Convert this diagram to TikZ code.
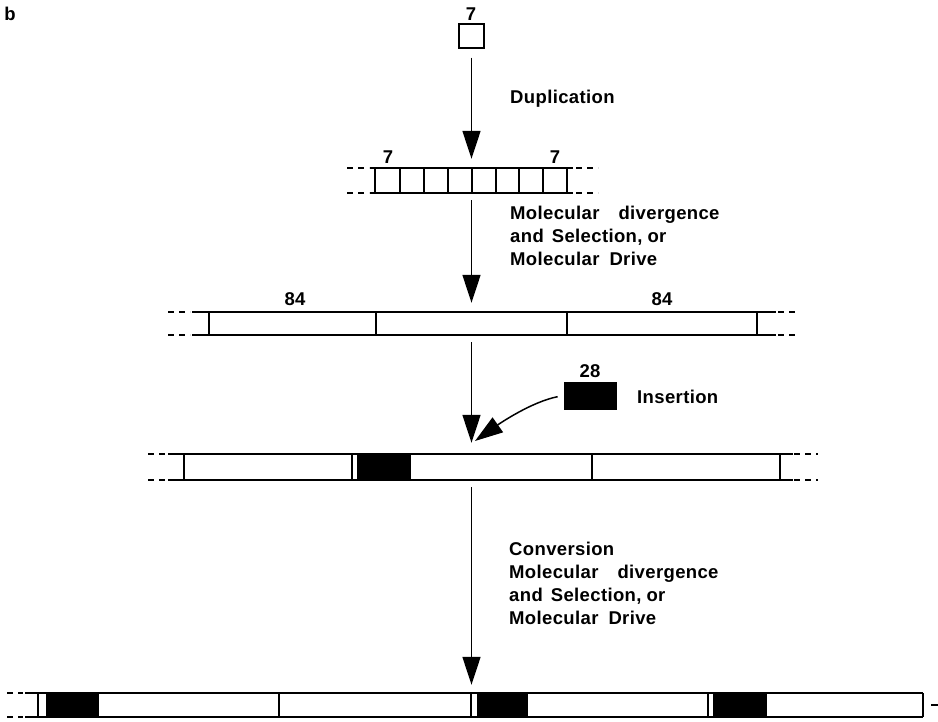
\documentclass[tikz,border=0pt]{standalone}
\usepackage{fontspec}
\setmainfont{Liberation Sans}[LetterSpace=2]
\usetikzlibrary{arrows.meta}
\begin{document}
\begin{tikzpicture}[x=1pt,y=-1pt,
  lbl/.style={font=\fontsize{18.5}{23.3}\selectfont\bfseries, inner sep=0pt},
  ln/.style={line width=1.5pt},
  dsh/.style={line width=1.5pt, dash pattern=on 6pt off 5pt},
  arr/.style={line width=1.5pt, -{Triangle[length=28pt,width=18pt]}},
  blk/.style={fill=black, draw=black, line width=1pt},
  rowbox/.style={inner sep=0pt, minimum height=25pt}
]
\useasboundingbox (0,0) rectangle (938,721);

% panel letter
\node[lbl, anchor=base] (b) at (10,20) {b};

% source unit
\node[lbl, anchor=base] (t7) at (471,20) {7};
\node[draw, line width=1.4pt, minimum width=25pt, minimum height=24pt, inner sep=0pt] (src) at (471.5,36) {};

% row nodes (extent markers)
\node[rowbox, minimum width=250pt] (r1) at (472,180.5) {};
\node[rowbox, minimum width=629pt, minimum height=23pt] (r2) at (482.5,323.5) {};
\node[rowbox, minimum width=669pt, minimum height=26pt] (r3) at (482.5,467) {};
\node[rowbox, minimum width=931pt, minimum height=24pt] (r4) at (472.5,705) {};

% ---- row 1
\draw[ln] (370,168) -- (573,168) (370,193) -- (573,193);
\draw[dsh] (347,168) -- (369,168) (347,193) -- (369,193);
\draw[dsh] (576,168) -- (598,168) (576,193) -- (598,193);
\foreach \x in {375,400,424,448,472,496,519,543,567}
  \draw[ln] (\x,168) -- (\x,193);
\node[lbl, anchor=base] (r1a) at (388,163) {7};
\node[lbl, anchor=base] (r1b) at (555,163) {7};

% ---- row 2
\draw[ln] (192,312) -- (776,312) (192,335) -- (776,335);
\draw[dsh] (168,312) -- (190,312) (168,335) -- (190,335);
\draw[dsh] (778,312) -- (798,312) (778,335) -- (798,335);
\foreach \x in {209,376,567,757}
  \draw[ln] (\x,312) -- (\x,335);
\node[lbl, anchor=base] (r2a) at (295,305) {84};
\node[lbl, anchor=base] (r2b) at (662,305) {84};

% ---- insertion element
\node[lbl, anchor=base] (n28) at (590,377) {28};
\node[blk, minimum width=52pt, minimum height=27pt, inner sep=0pt] (ins) at (590,395.5) {};
\node[lbl, anchor=base west] (insl) at (637,403) {Insertion};

% ---- row 3
\draw[ln] (168,454) -- (793,454) (168,480) -- (793,480);
\draw[dsh] (148,454) -- (166,454) (148,480) -- (166,480);
\draw[dsh] (794,454) -- (818,454) (794,480) -- (818,480);
\foreach \x in {184,352,592,780}
  \draw[ln] (\x,454) -- (\x,480);
\fill[black] (357,454) rectangle (411,480);

% ---- row 4
\draw[ln] (25,693) -- (923,693) (25,717) -- (923,717);
\draw[dsh] (7,693) -- (23,693) (7,717) -- (23,717);
\draw[ln] (931,705) -- (938,705);
\foreach \x in {38,279,471,708,923}
  \draw[ln] (\x,693) -- (\x,717);
\fill[black] (46,693) rectangle (99,717);
\fill[black] (477,693) rectangle (528,717);
\fill[black] (713,693) rectangle (767,717);

% ---- arrows
\coordinate (instip) at (475,441);
\draw[arr, shorten <=9pt, shorten >=9pt] (src.south) -- (r1.north -| src.south);
\draw[arr, shorten <=7pt, shorten >=9pt] (r1.south -| src.south) -- (r2.north -| src.south);
\draw[arr, shorten <=7pt, shorten >=11pt] (r2.south -| src.south) -- (r3.north -| src.south);
\draw[arr, shorten <=7pt, shorten >=8pt] (r3.south -| src.south) -- (r4.north -| src.south);
\draw[arr, shorten <=6pt] (ins.west) .. controls (531,402) and (499,424) .. (instip);

% ---- labels
\node[lbl, anchor=base west] (dup) at (510,103) {Duplication};
\node[lbl, anchor=base west] (lab2) at (510,219) {\begin{tabular}[t]{@{}l@{}}Molecular\hspace{19pt}divergence\\and\hspace{8pt}Selection,\hspace{5pt}or\\Molecular\hspace{10pt}Drive\end{tabular}};
\node[lbl, anchor=base west] (lab4) at (509,555) {\begin{tabular}[t]{@{}l@{}}Conversion\\Molecular\hspace{19pt}divergence\\and\hspace{8pt}Selection,\hspace{5pt}or\\Molecular\hspace{10pt}Drive\end{tabular}};
\end{tikzpicture}
\end{document}
